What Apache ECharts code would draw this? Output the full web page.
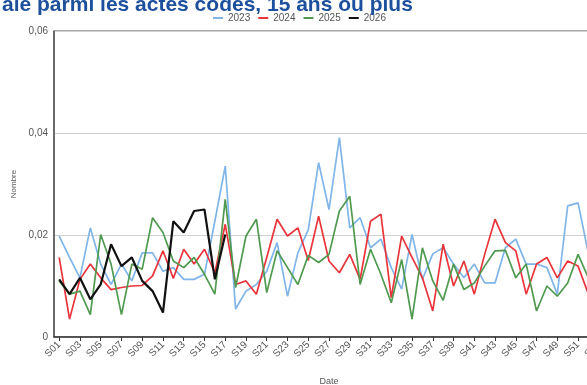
<!DOCTYPE html>
<html>
<head>
<meta charset="utf-8">
<script src="https://cdn.jsdelivr.net/npm/echarts@6/dist/echarts.min.js"></script>
<style>
html,body{margin:0;padding:0;background:#fff;overflow:hidden;}
#chart{width:587px;height:385px;}
</style>
</head>
<body>
<div id="chart"></div>
<script>
var weeks = [];
for (var i = 1; i <= 53; i++) { weeks.push('S' + (i < 10 ? '0' + i : '' + i)); }

var titleText = 'ale parmi les actes codés, 15 ans ou plus';
var seriesNames = ['2023', '2024', '2025', '2026'];

var y2023 = [0.0198,0.0156,0.0116,0.0214,0.0143,0.0103,0.0143,0.0110,0.0165,0.0165,
             0.0129,0.0136,0.0113,0.0113,0.0123,0.0227,0.0335,0.0055,0.0090,0.0103,
             0.0129,0.0185,0.0080,0.0165,0.0210,0.0342,0.0250,0.0391,0.0214,0.0234,
             0.0175,0.0192,0.0136,0.0094,0.0201,0.0113,0.0163,0.0175,0.0143,0.0116,
             0.0143,0.0106,0.0106,0.0175,0.0192,0.0143,0.0143,0.0136,0.0084,0.0257,
             0.0263,0.0163];
var y2024 = [0.0156,0.0035,0.0113,0.0143,0.0116,0.0093,0.0097,0.0100,0.0101,0.0120,
             0.0169,0.0115,0.0172,0.0143,0.0172,0.0126,0.0221,0.0103,0.0110,0.0084,
             0.0156,0.0231,0.0198,0.0214,0.0150,0.0237,0.0149,0.0126,0.0162,0.0113,
             0.0227,0.0241,0.0077,0.0198,0.0156,0.0116,0.0051,0.0182,0.0100,0.0149,
             0.0084,0.0162,0.0231,0.0185,0.0169,0.0084,0.0143,0.0156,0.0116,0.0149,
             0.0139,0.0084];
var y2025 = [0.0110,0.0084,0.0090,0.0044,0.0201,0.0143,0.0044,0.0143,0.0133,0.0234,
             0.0205,0.0149,0.0136,0.0156,0.0123,0.0084,0.0270,0.0097,0.0198,0.0231,
             0.0087,0.0169,0.0136,0.0103,0.0160,0.0146,0.0162,0.0247,0.0276,0.0103,
             0.0172,0.0123,0.0067,0.0152,0.0035,0.0175,0.0110,0.0072,0.0143,0.0093,
             0.0106,0.0139,0.0169,0.0170,0.0116,0.0143,0.0051,0.0100,0.0080,0.0106,
             0.0162,0.0116];
var y2026 = [0.0113,0.0084,0.0116,0.0074,0.0103,0.0182,0.0139,0.0156,0.0110,0.0090,
             0.0048,0.0227,0.0205,0.0247,0.0250,0.0113,0.0201];

var colors = ['#7fb5e8', '#e8343a', '#4f9a4f', '#111111'];
var widths = [1.7, 1.7, 1.7, 2.2];
var dataSets = [y2023, y2024, y2025, y2026];

var chart = echarts.init(document.getElementById('chart'), null, {renderer: 'canvas'});
var series = seriesNames.map(function (n, k) {
  return {
    name: n,
    type: 'line',
    data: dataSets[k],
    symbol: 'none',
    smooth: false,
    z: 2 + k,
    lineStyle: {color: colors[k], width: widths[k]},
    itemStyle: {color: colors[k]}
  };
});

chart.setOption({
  animation: false,
  backgroundColor: '#ffffff',
  title: {
    text: titleText,
    left: -3,
    top: -10,
    textStyle: {color: '#1c4f9c', fontSize: 21, fontWeight: 'bold', fontFamily: 'Liberation Sans, Arial, sans-serif'}
  },
  legend: {
    data: seriesNames,
    top: 8,
    left: 208,
    itemWidth: 10,
    itemHeight: 2,
    itemGap: 8,
    icon: 'rect',
    textStyle: {color: '#555', fontSize: 10, fontFamily: 'Liberation Sans, Arial, sans-serif'}
  },
  grid: {
    left: 54,
    top: 31,
    right: -17,
    bottom: 48,
    show: true,
    borderColor: '#555',
    borderWidth: 1,
    containLabel: false,
    outerBoundsMode: 'none'
  },
  xAxis: {
    type: 'category',
    data: weeks,
    boundaryGap: true,
    name: 'Date',
    nameLocation: 'middle',
    nameGap: 40,
    nameTextStyle: {color: '#555', fontSize: 9, fontFamily: 'Liberation Sans, Arial, sans-serif'},
    axisLine: {show: true, lineStyle: {color: '#333', width: 1.5}},
    axisTick: {show: true, alignWithLabel: true, interval: 1, length: 4, lineStyle: {color: '#333'}},
    axisLabel: {
      interval: 1,
      rotate: 45,
      color: '#555',
      fontSize: 10,
      margin: 6,
      fontFamily: 'Liberation Sans, Arial, sans-serif'
    },
    splitLine: {show: false}
  },
  yAxis: {
    type: 'value',
    min: 0,
    max: 0.06,
    interval: 0.02,
    name: 'Nombre',
    nameLocation: 'middle',
    nameGap: 36,
    nameTextStyle: {color: '#555', fontSize: 8, fontFamily: 'Liberation Sans, Arial, sans-serif'},
    axisLine: {show: true, lineStyle: {color: '#555', width: 1.5}},
    axisTick: {show: false},
    axisLabel: {
      color: '#555',
      fontSize: 10,
      margin: 6,
      fontFamily: 'Liberation Sans, Arial, sans-serif',
      formatter: function (v) { return v === 0 ? '0' : v.toFixed(2).replace('.', ','); }
    },
    splitLine: {show: true, lineStyle: {color: '#d0d0d0', width: 1}}
  },
  series: series
});
</script>
</body>
</html>
